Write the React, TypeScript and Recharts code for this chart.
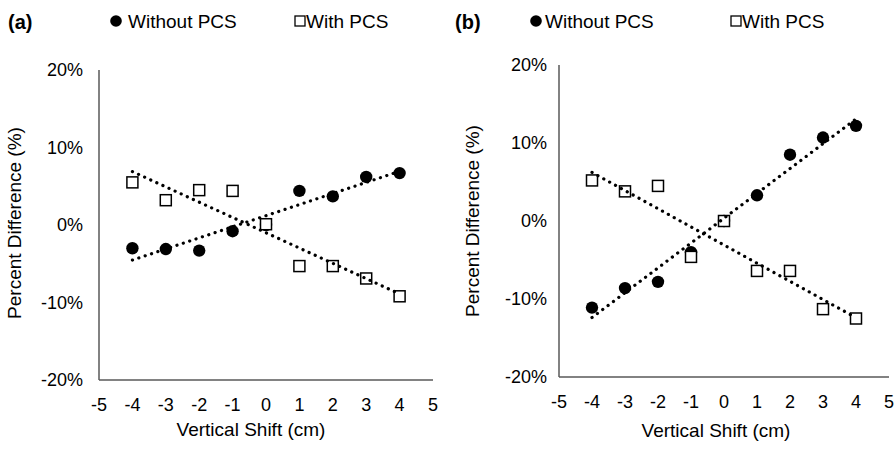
import React from 'react';
import { ScatterChart, Scatter, XAxis, YAxis } from 'recharts';

const shifts = [-4, -3, -2, -1, 0, 1, 2, 3, 4];
const xTicks = [-5, -4, -3, -2, -1, 0, 1, 2, 3, 4, 5];
const yTicks = [-20, -10, 0, 10, 20];
const aWithout = [-3.0, -3.1, -3.3, -0.8, 0.0, 4.4, 3.7, 6.2, 6.7];
const aWith = [5.5, 3.2, 4.5, 4.4, 0.1, -5.3, -5.3, -6.9, -9.2];
const bWithout = [-11.1, -8.6, -7.8, -4.0, 0.0, 3.3, 8.5, 10.7, 12.2];
const bWith = [5.2, 3.8, 4.5, -4.6, 0.0, -6.4, -6.4, -11.3, -12.5];
const seriesNames = ['Without PCS', 'With PCS'];
const xTitle = 'Vertical Shift (cm)';
const yTitle = 'Percent Difference (%)';

const FONT = '"Liberation Sans", Arial, Helvetica, sans-serif';
const AXIS = '#595959';

const toPoints = (ys: number[]) => shifts.map((x, i) => ({ x, y: ys[i] }));

const trend = (ys: number[]) => {
  const n = shifts.length;
  const mx = shifts.reduce((s, v) => s + v, 0) / n;
  const my = ys.reduce((s, v) => s + v, 0) / n;
  let sxy = 0;
  let sxx = 0;
  shifts.forEach((x, i) => {
    sxy += (x - mx) * (ys[i] - my);
    sxx += (x - mx) * (x - mx);
  });
  const m = sxy / sxx;
  const b = my - m * mx;
  const x0 = shifts[0];
  const x1 = shifts[n - 1];
  return [
    { x: x0, y: m * x0 + b },
    { x: x1, y: m * x1 + b },
  ];
};

const Dot = (p: any) => <circle cx={p.cx} cy={p.cy} r={6.2} fill="#000" />;
const Sq = (p: any) => (
  <rect x={p.cx - 5.5} y={p.cy - 5.5} width={11} height={11} fill="#fff" stroke="#000" strokeWidth={1.5} />
);
const Nothing = () => <g />;

const trendLine = {
  stroke: '#000',
  strokeWidth: 3.2,
  strokeDasharray: '0.1 6.6',
  strokeLinecap: 'round' as const,
};

type PanelProps = {
  without: number[];
  withP: number[];
  top: number;
  right: number;
  yAxisWidth: number;
  xAxisHeight: number;
  yTickMargin: number;
  yTitleX: number;
  yTitleY: number;
  xTitleX: number;
  xTitleY: number;
};

const Panel = (p: PanelProps) => (
  <ScatterChart
    width={448}
    height={449}
    margin={{ top: p.top, right: p.right, bottom: 0, left: 0 }}
    style={{ fontFamily: FONT }}
  >
    <XAxis
      dataKey="x"
      type="number"
      domain={[-5, 5]}
      ticks={xTicks}
      interval={0}
      height={p.xAxisHeight}
      tickLine={false}
      tickSize={0}
      tickMargin={18}
      axisLine={{ stroke: AXIS, strokeWidth: 1.5 }}
      tick={{ fill: '#000', fontSize: 18, fontFamily: FONT }}
      label={{
        content: () => (
          <text x={p.xTitleX} y={p.xTitleY} textAnchor="middle" fill="#000" fontSize={19} fontFamily={FONT}>
            {xTitle}
          </text>
        ),
      }}
    />
    <YAxis
      dataKey="y"
      type="number"
      domain={[-20, 20]}
      ticks={yTicks}
      interval={0}
      width={p.yAxisWidth}
      tickLine={false}
      tickSize={0}
      tickMargin={p.yTickMargin}
      tickFormatter={(v: number) => `${v}%`}
      axisLine={{ stroke: AXIS, strokeWidth: 1.5 }}
      tick={{ fill: '#000', fontSize: 18, fontFamily: FONT }}
      label={{
        content: () => (
          <text
            transform={`translate(${p.yTitleX}, ${p.yTitleY}) rotate(-90)`}
            textAnchor="middle"
            fill="#000"
            fontSize={19}
            fontFamily={FONT}
          >
            {yTitle}
          </text>
        ),
      }}
    />
    <Scatter name={seriesNames[0]} data={toPoints(p.without)} shape={Dot} isAnimationActive={false} />
    <Scatter name={seriesNames[1]} data={toPoints(p.withP)} shape={Sq} isAnimationActive={false} />
    <Scatter data={trend(p.without)} line={trendLine} shape={Nothing} isAnimationActive={false} legendType="none" />
    <Scatter data={trend(p.withP)} line={trendLine} shape={Nothing} isAnimationActive={false} legendType="none" />
  </ScatterChart>
);

const LegendRow = ({ tag, tagX, circleX, textX1, squareX, textX2 }: any) => (
  <g fontFamily={FONT} fill="#000">
    <text x={tagX} y={29} fontSize={20} fontWeight="bold">{tag}</text>
    <circle cx={circleX} cy={21} r={5.8} fill="#000" />
    <text x={textX1} y={28} fontSize={19}>{seriesNames[0]}</text>
    <rect x={squareX - 5} y={16} width={10} height={10} fill="#fff" stroke="#000" strokeWidth={1.3} />
    <text x={textX2} y={28} fontSize={19}>{seriesNames[1]}</text>
  </g>
);

export default function App() {
  return (
    <div
      style={{
        position: 'absolute',
        left: 0,
        top: 0,
        width: 896,
        height: 449,
        background: '#fff',
        overflow: 'hidden',
        fontFamily: FONT,
      }}
    >
      <div style={{ position: 'absolute', left: 0, top: 0 }}>
        <Panel
          without={aWithout}
          withP={aWith}
          top={70}
          right={15}
          yAxisWidth={99}
          xAxisHeight={69}
          yTickMargin={16}
          yTitleX={21}
          yTitleY={223}
          xTitleX={251}
          xTitleY={436}
        />
      </div>
      <div style={{ position: 'absolute', left: 448, top: 0 }}>
        <Panel
          without={bWithout}
          withP={bWith}
          top={65}
          right={7}
          yAxisWidth={111}
          xAxisHeight={72}
          yTickMargin={12}
          yTitleX={31}
          yTitleY={221}
          xTitleX={268}
          xTitleY={437}
        />
      </div>
      <svg width={896} height={449} style={{ position: 'absolute', left: 0, top: 0, pointerEvents: 'none' }}>
        <LegendRow tag="(a)" tagX={8} circleX={116} textX1={128} squareX={300} textX2={306} />
        <LegendRow tag="(b)" tagX={455} circleX={536} textX1={545} squareX={736} textX2={742} />
      </svg>
    </div>
  );
}
